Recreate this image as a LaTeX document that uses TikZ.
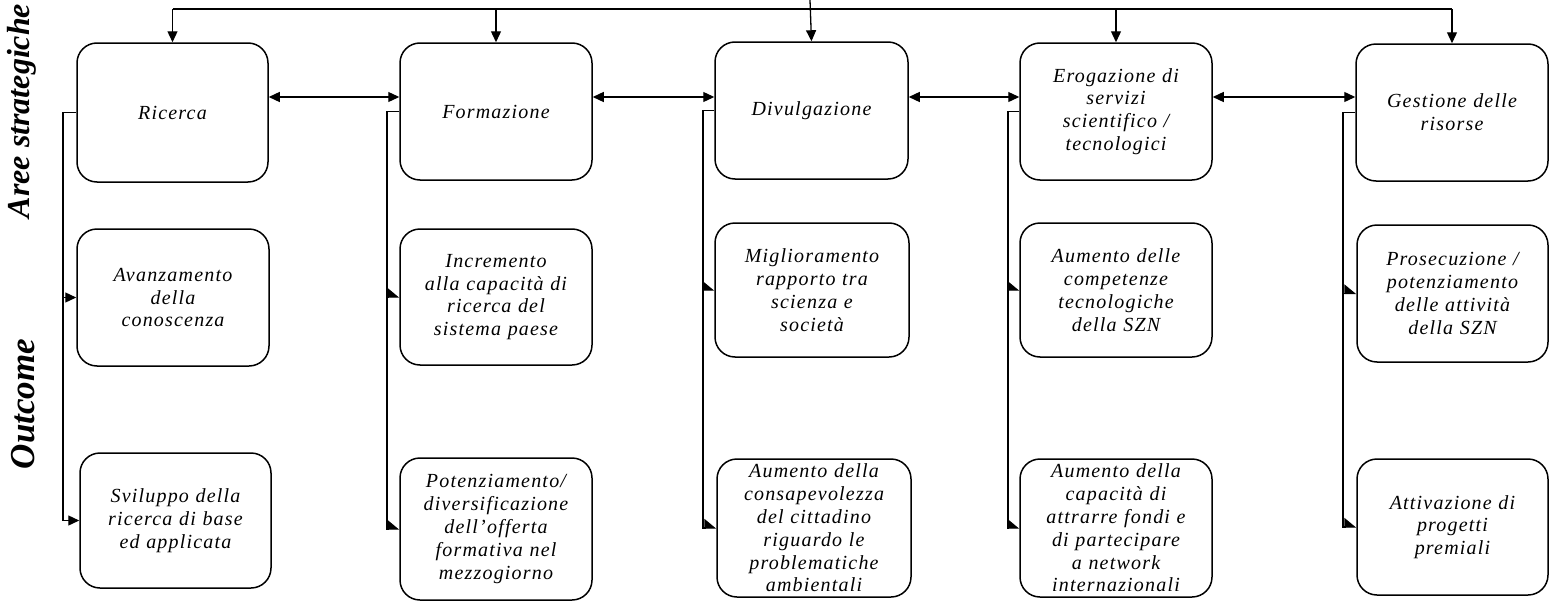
\documentclass[tikz,border=0pt]{standalone}
\usepackage{fontspec}
\setmainfont{Liberation Serif}
\newfontfamily\boxfont{Liberation Serif}[LetterSpace=6]
\usetikzlibrary{arrows.meta,calc}
\begin{document}
\begin{tikzpicture}[x=1pt,y=-1pt,
  box/.style={draw, line width=1.5pt, rounded corners=20pt, inner sep=0pt,
    text width=190pt, align=center,
    font=\boxfont\itshape\fontsize{20}{22.8}\selectfont},
  lab/.style={rotate=90, inner sep=0pt,
    font=\fontsize{32}{32}\selectfont\bfseries\itshape},
  link/.style={line width=1.3pt},
  tip/.style={link, -{Triangle[length=11pt,width=10pt]}},
  halftip/.style={link, -{Triangle[harpoon,length=11pt,width=18pt]}},
  both/.style={link, {Triangle[length=11pt,width=10pt]}-{Triangle[length=11pt,width=10pt]}}]
\useasboundingbox (0,0) rectangle (1551,605);

% side labels
\node[lab] (aree) at (22,111) {Aree strategiche};
\node[lab, font=\fontsize{35}{35}\selectfont\bfseries\itshape] (outc) at (23,404) {Outcome};

% strategic areas
\node[box, minimum width=191pt, minimum height=139pt] (ric) at (172.5,112.5) {Ricerca};
\node[box, minimum width=192pt, minimum height=137pt] (for) at (496,111.5) {Formazione};
\node[box, minimum width=193pt, minimum height=137pt] (div) at (811.5,110.5) {Divulgazione};
\node[box, minimum width=192pt, minimum height=137pt] (ero) at (1116,111.5) {Erogazione di\\servizi\\scientifico /\\tecnologici};
\node[box, minimum width=192pt, minimum height=137pt] (ges) at (1452,112.5) {Gestione delle\\risorse};

% first outcomes
\node[box, minimum width=192pt, minimum height=137pt] (ava) at (173,297.5) {Avanzamento\\della\\conoscenza};
\node[box, minimum width=192pt, minimum height=136pt] (inc) at (496,297) {Incremento\\alla capacità di\\ricerca del\\sistema paese};
\node[box, minimum width=194pt, minimum height=134pt] (mig) at (812,290) {Miglioramento\\rapporto tra\\scienza e\\società};
\node[box, minimum width=192pt, minimum height=134pt] (com) at (1116,290) {Aumento delle\\competenze\\tecnologiche\\della SZN};
\node[box, minimum width=191pt, minimum height=137pt] (pro) at (1452.5,293.5) {Prosecuzione /\\potenziamento\\delle attività\\della SZN};

% second outcomes
\node[box, minimum width=191pt, minimum height=135pt] (svi) at (175.5,520.5) {Sviluppo della\\ricerca di base\\ed applicata};
\node[box, minimum width=192pt, minimum height=142pt] (pot) at (496,529) {Potenziamento/\\diversificazione\\dell’offerta\\formativa nel\\mezzogiorno};
\node[box, minimum width=194pt, minimum height=138pt] (con) at (814,528) {Aumento della\\consapevolezza\\del cittadino\\riguardo le\\problematiche\\ambientali};
\node[box, minimum width=192pt, minimum height=138pt] (cap) at (1116,528) {Aumento della\\capacità di\\attrarre fondi e\\di partecipare\\a network\\internazionali};
\node[box, minimum width=191pt, minimum height=136pt] (att) at (1452.5,527) {Attivazione di\\progetti\\premiali};

% distribution line from the top
\coordinate (src) at (810,0);
\coordinate (bus) at (0,9);
\draw[link] (ric.north |- bus) -- (ges.north |- bus);
\draw[tip] (src) -- (div.north);
\foreach \b in {ric,for,ero,ges}
  \draw[tip] (\b.north |- bus) -- (\b.north);

% links between neighbouring areas
\coordinate (hrow) at (0,97);
\draw[both] (ric.east |- hrow) -- (for.west |- hrow);
\draw[both] (for.east |- hrow) -- (div.west |- hrow);
\draw[both] (div.east |- hrow) -- (ero.west |- hrow);
\draw[both] (ero.east |- hrow) -- (ges.west |- hrow);

% spines from each area to its outcomes
\coordinate (s1) at (63,0);
\coordinate (s2) at (387,0);
\coordinate (s3) at (703,0);
\coordinate (s4) at (1008,0);
\coordinate (s5) at (1343,0);
\draw[tip] (ric.west) -- (ric.west -| s1) |- (svi.west);
\draw[tip] (ava.west -| s1) -- (ava.west);
\draw[halftip] (for.west) -- (for.west -| s2) |- (pot.west);
\draw[halftip] (inc.west -| s2) -- (inc.west);
\draw[halftip] (div.west) -- (div.west -| s3) |- (con.west);
\draw[halftip] (mig.west -| s3) -- (mig.west);
\draw[halftip] (ero.west) -- (ero.west -| s4) |- (cap.west);
\draw[halftip] (com.west -| s4) -- (com.west);
\draw[halftip] (ges.west) -- (ges.west -| s5) |- (att.west);
\draw[halftip] (pro.west -| s5) -- (pro.west);
\end{tikzpicture}
\end{document}
